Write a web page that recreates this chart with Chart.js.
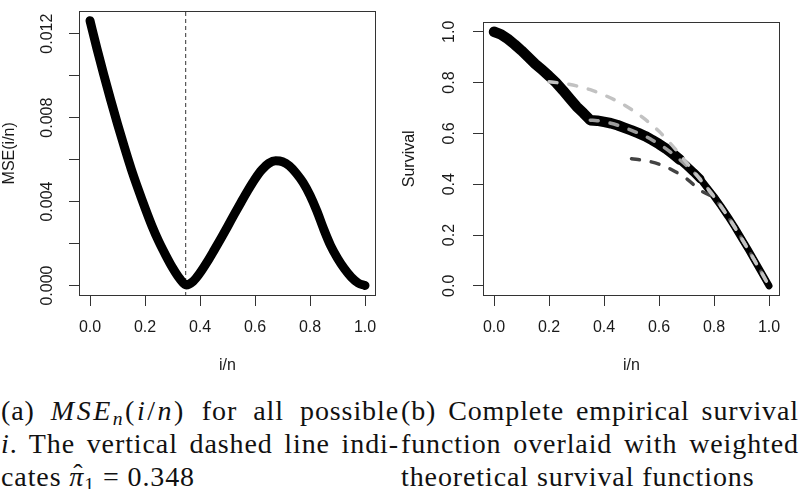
<!DOCTYPE html>
<html>
<head>
<meta charset="utf-8">
<script src="https://cdn.jsdelivr.net/npm/chart.js@4"></script>
<style>
html,body{margin:0;padding:0;background:#fff;width:800px;height:489px;overflow:hidden;}
#wrap{position:relative;width:800px;height:489px;}
canvas{position:absolute;top:0;}
.cap{position:absolute;width:398px;font-family:"Liberation Serif","Times New Roman",serif;font-size:28px;line-height:32px;letter-spacing:0.9px;color:#111;white-space:nowrap;}
.j{text-align:justify;text-align-last:justify;white-space:normal;}
.cap i{font-style:italic;}
.cap sub{font-size:70%;vertical-align:-5px;line-height:0;}
.math{letter-spacing:2.5px;}
.hat{position:relative;}
.hat .h{position:absolute;left:4px;top:-3px;font-style:normal;}
</style>
</head>
<body>
<div id="wrap">
  <canvas id="c1" width="400" height="375" style="left:0"></canvas>
  <canvas id="c2" width="400" height="375" style="left:400px"></canvas>
  <div class="cap j" style="left:1px;top:395px;">(a) <span class="math"><i>MSE<sub>n</sub></i>(<i>i</i>/<i>n</i>)</span> for all possible</div>
  <div class="cap j" style="left:1px;top:428px;"><i>i</i>. The vertical dashed line indi-</div>
  <div class="cap" style="left:1px;top:461px;">cates <span class="hat"><i>π</i><span class="h">ˆ</span></span><sub>1</sub> = 0.348</div>
  <div class="cap j" style="left:401px;top:395px;">(b) Complete empirical survival</div>
  <div class="cap j" style="left:401px;top:428px;">function overlaid with weighted</div>
  <div class="cap" style="left:401px;top:461px;">theoretical survival functions</div>
</div>
<script>
// ---------- data: panel (a) ----------
const mseX = [0.000,0.025,0.050,0.075,0.100,0.125,0.150,0.175,0.200,0.225,0.250,0.275,0.300,0.325,0.350,0.375,0.400,0.425,0.450,0.475,0.500,0.525,0.550,0.575,0.600,0.625,0.650,0.675,0.700,0.725,0.750,0.775,0.800,0.825,0.850,0.875,0.900,0.925,0.950,0.975,1.000];
const mseY = [0.01262,0.01130,0.01005,0.00885,0.00770,0.00660,0.00555,0.00460,0.00370,0.00285,0.00210,0.00145,0.00085,0.00035,0.00003,0.00020,0.00060,0.00110,0.00165,0.00222,0.00280,0.00340,0.00398,0.00455,0.00508,0.00552,0.00582,0.00594,0.00590,0.00570,0.00535,0.00490,0.00430,0.00355,0.00268,0.00190,0.00130,0.00080,0.00040,0.00012,0.00000];
const piHat = 0.348;
const mseYLimits = [-0.0005, 0.0131];
const mseTicks = [0, 0.002, 0.004, 0.006, 0.008, 0.010, 0.012];
const mseLabeledTicks = [0, 0.004, 0.008, 0.012];
const xTicks = [0, 0.2, 0.4, 0.6, 0.8, 1.0];
const xLimits = [-0.04, 1.04];

// ---------- data: panel (b) ----------
const survX = [0.000,0.025,0.050,0.075,0.100,0.125,0.150,0.175,0.200,0.225,0.250,0.275,0.300,0.325,0.350,0.375,0.400,0.425,0.450,0.475,0.500,0.525,0.550,0.575,0.600,0.625,0.650,0.675,0.700,0.725,0.750,0.775,0.800,0.825,0.850,0.875,0.900,0.925,0.950,0.975,1.000];
const survEmp = [1.000,0.990,0.972,0.950,0.926,0.900,0.873,0.850,0.826,0.800,0.770,0.738,0.706,0.680,0.652,0.650,0.645,0.640,0.632,0.622,0.612,0.601,0.589,0.574,0.558,0.540,0.520,0.497,0.473,0.448,0.421,0.386,0.352,0.314,0.274,0.232,0.187,0.142,0.095,0.048,0.000];
const theoMidX = [0.350,0.375,0.400,0.425,0.450,0.475,0.500,0.525,0.550,0.575,0.600,0.625,0.650,0.675,0.700,0.725,0.750,0.775,0.800,0.825,0.850,0.875,0.900,0.925,0.950,0.975,1.000];
const theoMidY = [0.652,0.650,0.645,0.640,0.632,0.622,0.612,0.601,0.589,0.574,0.558,0.540,0.520,0.497,0.473,0.448,0.421,0.386,0.352,0.314,0.274,0.232,0.187,0.142,0.095,0.048,0.000];
const theoLightX = [0.20,0.25,0.30,0.35,0.40,0.45,0.50,0.55,0.60,0.65,0.70,0.75,0.80,0.85,0.90,0.95,1.00];
const theoLightY = [0.803,0.797,0.787,0.772,0.751,0.726,0.694,0.655,0.608,0.550,0.485,0.418,0.350,0.274,0.187,0.095,0.000];
const theoDarkX = [0.50,0.55,0.60,0.65,0.70,0.75,0.80,0.85,0.90,0.95,1.00];
const theoDarkY = [0.500,0.493,0.479,0.455,0.422,0.376,0.345,0.272,0.187,0.095,0.000];
const survTicks = [0, 0.2, 0.4, 0.6, 0.8, 1.0];
const survYLimits = [-0.04, 1.04];

const pts = (xs, ys) => xs.map((x, i) => ({x, y: ys[i]}));

const AXIS = '#333';
const TXT = '#1a1a1a';
const FONT = {family: '"Liberation Sans", Arial, sans-serif', size: 16};

const boxPlugin = {
  id: 'box',
  afterDraw(chart) {
    const {ctx, chartArea: a} = chart;
    ctx.save();
    ctx.strokeStyle = AXIS;
    ctx.lineWidth = 1;
    ctx.strokeRect(Math.round(a.left) + 0.5, Math.round(a.top) + 0.5, Math.round(a.right - a.left) - 1, Math.round(a.bottom - a.top) - 1);
    ctx.restore();
  }
};

function xScale(title) {
  return {
    type: 'linear', min: xLimits[0], max: xLimits[1],
    afterBuildTicks: s => { s.ticks = xTicks.map(v => ({value: v})); },
    afterFit: s => { s.height = 79; },
    border: {display: false},
    grid: {drawOnChartArea: false, drawTicks: true, tickLength: 10, color: AXIS, lineWidth: 1},
    ticks: {autoSkip: false, maxRotation: 0, minRotation: 0, padding: 12, color: TXT, font: FONT,
            callback: v => Number(v).toFixed(1)},
    title: {display: true, text: title, color: TXT, font: FONT, padding: {top: 0, bottom: 0}}
  };
}

function yScale(title, lim, ticks, labelFn, width, pad) {
  return {
    type: 'linear', min: lim[0], max: lim[1],
    afterBuildTicks: s => { s.ticks = ticks.map(v => ({value: v})); },
    afterFit: s => { s.width = width; },
    border: {display: false},
    grid: {drawOnChartArea: false, drawTicks: true, tickLength: 10, color: AXIS, lineWidth: 1},
    ticks: {autoSkip: false, minRotation: 90, maxRotation: 90, crossAlign: 'center', padding: pad,
            color: TXT, font: FONT, callback: labelFn},
    title: {display: true, text: title, color: TXT, font: FONT, padding: {top: 0, bottom: 0}}
  };
}

const common = {
  responsive: false,
  animation: false,
  events: [],
  plugins: {legend: {display: false}, tooltip: {enabled: false}},
  elements: {point: {radius: 0}}
};

// ---------- panel (a) ----------
new Chart(document.getElementById('c1'), {
  type: 'line',
  data: {
    datasets: [
      {data: pts(mseX, mseY), borderColor: '#000', borderWidth: 9, borderCapStyle: 'round', borderJoinStyle: 'round',
       cubicInterpolationMode: 'monotone', fill: false, order: 1},
      {data: pts([piHat, piHat], mseYLimits), borderColor: '#333', borderWidth: 1, borderDash: [4, 3], fill: false, order: 2}
    ]
  },
  options: Object.assign({}, common, {
    layout: {padding: {top: 1, right: 24, bottom: 0, left: 0}},
    scales: {
      x: xScale('i/n'),
      y: yScale('MSE(i/n)', mseYLimits, mseTicks,
        v => mseLabeledTicks.some(t => Math.abs(t - v) < 1e-9) ? Number(v).toFixed(3) : '', 79, 1)
    }
  }),
  plugins: [boxPlugin]
});

// ---------- panel (b) ----------
new Chart(document.getElementById('c2'), {
  type: 'line',
  data: {
    datasets: [
      {data: pts(survX, survEmp), borderColor: '#000', borderWidth: 10.5, borderCapStyle: 'round', borderJoinStyle: 'round',
       tension: 0, fill: false, order: 4,
       segment: {borderWidth: c => c.p0.parsed.x >= 0.75 ? 7 : (c.p0.parsed.x >= 0.675 ? 8.5 : 10.5)}},
      {data: pts(theoDarkX, theoDarkY), borderColor: '#434343', borderWidth: 3.5, borderDash: [8, 12], borderCapStyle: 'round',
       cubicInterpolationMode: 'monotone', fill: false, order: 3},
      {data: pts(theoMidX, theoMidY), borderColor: '#9c9c9c', borderWidth: 3.5, borderDash: [8, 12], borderCapStyle: 'round',
       cubicInterpolationMode: 'monotone', fill: false, order: 2},
      {data: pts(theoLightX, theoLightY), borderColor: '#c2c2c2', borderWidth: 3.5, borderDash: [8, 12], borderCapStyle: 'round',
       cubicInterpolationMode: 'monotone', fill: false, order: 1}
    ]
  },
  options: Object.assign({}, common, {
    layout: {padding: {top: 1, right: 20, bottom: 0, left: 0}},
    scales: {
      x: xScale('i/n'),
      y: yScale('Survival', survYLimits, survTicks, v => Number(v).toFixed(1), 83, 12)
    }
  }),
  plugins: [boxPlugin]
});
</script>
</body>
</html>
